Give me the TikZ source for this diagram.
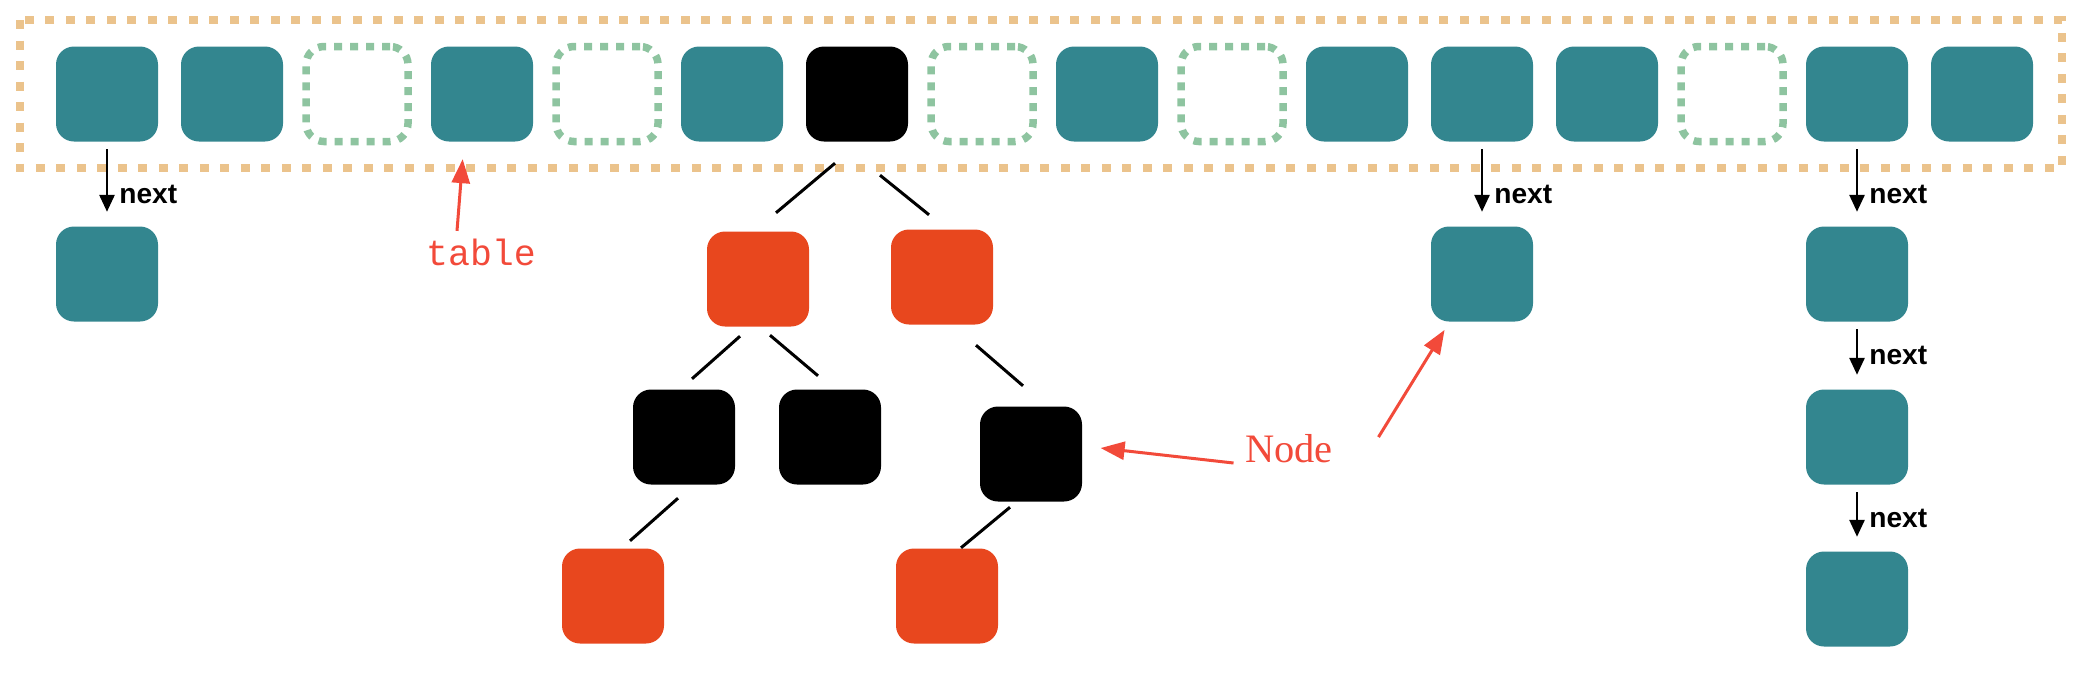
\documentclass[tikz,border=0pt]{standalone}
\usepackage{fontspec}
\setmainfont{Liberation Serif}
\newfontfamily\labelsans{Liberation Sans}
\newfontfamily\labelmono{Liberation Mono}
\usepackage{xcolor}
\usepackage{tikz}
\usetikzlibrary{arrows.meta}
\definecolor{bucketcol}{HTML}{33868F}
\definecolor{treered}{HTML}{E8471E}
\definecolor{slotgreen}{HTML}{8EC4A0}
\definecolor{framecol}{HTML}{EBC38C}
\definecolor{notered}{HTML}{F24A3A}
\tikzset{
  bucket/.style={rounded corners=1.8mm, fill=bucketcol, minimum width=10.2mm, minimum height=9.5mm, inner sep=0pt},
  rednode/.style={bucket, fill=treered},
  blacknode/.style={bucket, fill=black},
  emptyslot/.style={rounded corners=1.8mm, draw=slotgreen, line width=0.75mm, dash pattern=on 0.8mm off 0.8mm, minimum width=10.2mm, minimum height=9.5mm, inner sep=0pt},
  tableframe/.style={draw=framecol, line width=0.75mm, dash pattern=on 0.9mm off 1.15mm},
  treeline/.style={draw=black, line width=0.3mm},
  nextarrow/.style={draw=black, line width=0.28mm, -{Triangle[length=1.7mm,width=1.5mm]}, shorten <=0.7mm, shorten >=1.4mm},
  nextlbl/.style={font=\labelsans\bfseries\fontsize{8}{9}\selectfont, inner sep=1.1mm},
  notearrow/.style={draw=notered, line width=0.3mm, -{Triangle[length=2.4mm,width=1.8mm]}},
  notelbl/.style={text=notered, inner sep=0.5mm}
}
\begin{document}
\begin{tikzpicture}[x=0.1mm, y=-0.1mm]
  \useasboundingbox (0,0) rectangle (2094,680);

  % the table
  \draw[tableframe] (20,20) rectangle (2062,168);
  \node[bucket] (t1) at (107,94) {};
  \node[bucket] (t2) at (232,94) {};
  \node[emptyslot] (t3) at (357,94) {};
  \node[bucket] (t4) at (482,94) {};
  \node[emptyslot] (t5) at (607,94) {};
  \node[bucket] (t6) at (732,94) {};
  \node[blacknode] (t7) at (857,94) {};
  \node[emptyslot] (t8) at (982,94) {};
  \node[bucket] (t9) at (1107,94) {};
  \node[emptyslot] (t10) at (1232,94) {};
  \node[bucket] (t11) at (1357,94) {};
  \node[bucket] (t12) at (1482,94) {};
  \node[bucket] (t13) at (1607,94) {};
  \node[emptyslot] (t14) at (1732,94) {};
  \node[bucket] (t15) at (1857,94) {};
  \node[bucket] (t16) at (1982,94) {};

  % linked lists
  \node[bucket] (c1) at (107,274) {};
  \node[bucket] (c12) at (1482,274) {};
  \node[bucket] (c15a) at (1857,274) {};
  \node[bucket] (c15b) at (1857,437) {};
  \node[bucket] (c15c) at (1857,599) {};
  \draw[nextarrow] (t1) -- node[nextlbl, pos=0.62, right] {next} (c1);
  \draw[nextarrow] (t12) -- node[nextlbl, pos=0.62, right] {next} (c12);
  \draw[nextarrow] (t15) -- node[nextlbl, pos=0.62, right] {next} (c15a);
  \draw[nextarrow] (c15a) -- node[nextlbl, pos=0.5, right] {next} (c15b);
  \draw[nextarrow] (c15b) -- node[nextlbl, pos=0.5, right] {next} (c15c);

  % red-black tree
  \node[rednode] (r1) at (758,279) {};
  \node[rednode] (r2) at (942,277) {};
  \node[blacknode] (k1) at (684,437) {};
  \node[blacknode] (k2) at (830,437) {};
  \node[blacknode] (k3) at (1031,454) {};
  \node[rednode] (r3) at (613,596) {};
  \node[rednode] (r4) at (947,596) {};
  \draw[treeline] ([shift={(-22,21)}]t7.south) -- ([shift={(18,-18)}]r1.north);
  \draw[treeline] ([shift={(23,33)}]t7.south) -- ([shift={(-13,-14)}]r2.north);
  \draw[treeline] ([shift={(-18,9)}]r1.south) -- ([shift={(8,-10)}]k1.north);
  \draw[treeline] ([shift={(12,8)}]r1.south) -- ([shift={(-12,-13)}]k2.north);
  \draw[treeline] ([shift={(34,20)}]r2.south) -- ([shift={(-8,-20)}]k3.north);
  \draw[treeline] ([shift={(-6,13)}]k1.south) -- ([shift={(17,-7)}]r3.north);
  \draw[treeline] ([shift={(-21,5)}]k3.south) -- ([shift={(14,0)}]r4.north);

  % notes
  \node[notelbl, font=\labelmono\fontsize{10.4}{12}\selectfont] (tablelbl) at (481,252) {table};
  \node[notelbl, font=\fontsize{11.5}{13}\selectfont] (nodelbl) at (1289,449) {Node};
  \draw[notearrow, shorten >=1.7mm] ([shift={(-24,-2)}]tablelbl.north) -- ([shift={(-18,0)}]t4.south);
  \draw[notearrow, shorten >=1.8mm] ([shift={(-6,14)}]nodelbl.west) -- ([shift={(0,-8)}]k3.east);
  \draw[notearrow, shorten >=0.9mm] ([shift={(40,8)}]nodelbl.north east) -- ([shift={(19,0)}]c12.south west);
\end{tikzpicture}
\end{document}
